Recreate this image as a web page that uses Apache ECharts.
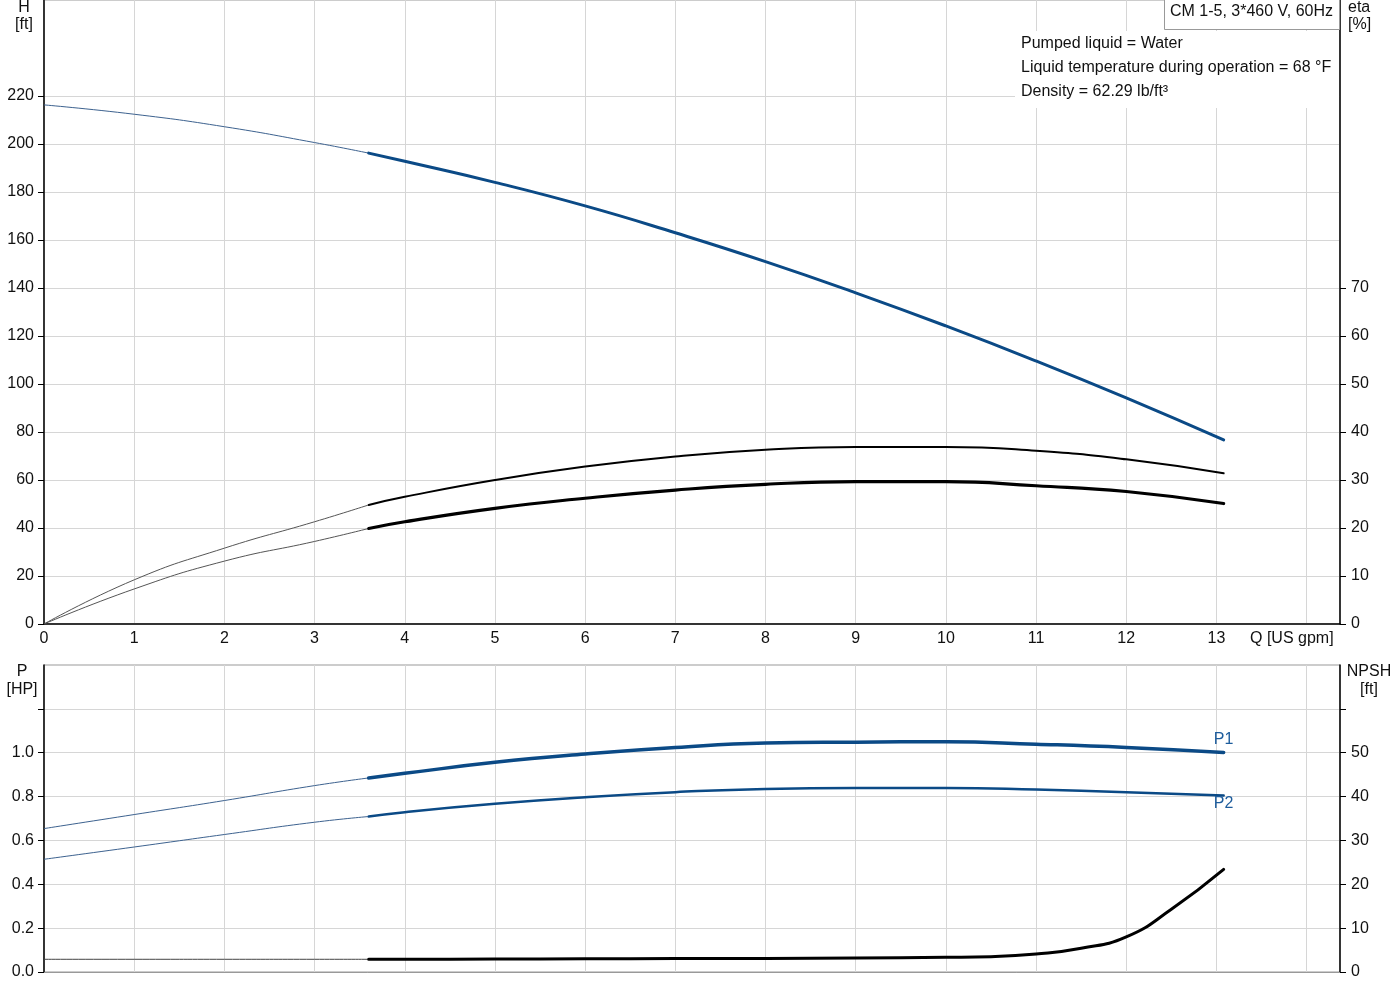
<!DOCTYPE html>
<html>
<head>
<meta charset="utf-8">
<script src="https://cdn.jsdelivr.net/npm/echarts@6/dist/echarts.min.js"></script>
<style>
html,body{margin:0;padding:0;background:#fff;}
#chart{width:1400px;height:1000px;}
</style>
</head>
<body>
<div id="chart"></div>
<script>
// ---- data ----
const q = [0, 1, 2, 3, 3.6, 4, 5, 6, 7, 8, 9, 10, 11, 12, 13.08];
const head = [216.3, 212.4, 207.2, 200.6, 196.2, 192.8, 184, 174.2, 163, 151, 138, 124.2, 109.6, 94.2, 76.7];
const etaUpper = [0, 9.2, 15.8, 21.3, 24.8, 26.5, 30, 32.8, 34.9, 36.3, 36.9, 36.9, 36.1, 34.3, 31.4];
const etaLower = [0, 7.3, 13.1, 17.2, 19.9, 21.3, 24.1, 26.2, 27.9, 29.1, 29.65, 29.65, 28.8, 27.6, 25.1];
const p1 = [0.654, 0.718, 0.782, 0.85, 0.885, 0.906, 0.956, 0.994, 1.024, 1.044, 1.048, 1.05, 1.039, 1.024, 1.001];
const p2 = [0.514, 0.57, 0.627, 0.683, 0.709, 0.729, 0.767, 0.797, 0.82, 0.835, 0.839, 0.839, 0.832, 0.82, 0.805];
const qNpsh = [0, 1, 2, 3, 3.6, 4, 5, 6, 7, 8, 9, 10, 10.5, 11, 11.5, 12, 12.5, 13.08];
const npsh = [2.9, 2.9, 2.9, 2.9, 2.9, 2.92, 2.95, 3.0, 3.05, 3.1, 3.2, 3.35, 3.5, 4.1, 5.4, 8.0, 14.3, 23.4];
const hTicks = [0, 20, 40, 60, 80, 100, 120, 140, 160, 180, 200, 220];
const etaTicks = [0, 10, 20, 30, 40, 50, 60, 70];
const pTicks = [0, 0.2, 0.4, 0.6, 0.8, 1.0];
const pTickMarks = [0, 0.2, 0.4, 0.6, 0.8, 1.0, 1.2];
const npshTicks = [0, 10, 20, 30, 40, 50];
const npshTickMarks = [0, 10, 20, 30, 40, 50, 60];
const splitIdx = 4; // operating range starts at q[4]

const FONT = '"Liberation Sans", Arial, sans-serif';
const FS = 16;
const BLUE = '#0b4a86';
const XMAX = 14.37;

function seg(xs, ys, from, to) {
  const out = [];
  for (let i = from; i <= to; i++) out.push([xs[i], ys[i]]);
  return out;
}
function thin(name, xs, ys, xi, yi, color) {
  return { name: name + '_t', type: 'line', xAxisIndex: xi, yAxisIndex: yi, data: seg(xs, ys, 0, splitIdx),
    smooth: 0.5, showSymbol: false, silent: true, lineStyle: { color: color, width: 1 }, z: 3 };
}
function thick(name, xs, ys, xi, yi, color, w, extra) {
  return Object.assign({ name: name, type: 'line', xAxisIndex: xi, yAxisIndex: yi, data: seg(xs, ys, splitIdx, xs.length - 1),
    smooth: 0.5, showSymbol: false, silent: true, lineStyle: { color: color, width: w, cap: 'round' }, z: 4 }, extra || {});
}

const axisLbl = { color: '#111', fontFamily: FONT, fontSize: FS };
const gridLine = { show: true, lineStyle: { color: '#d6d6d6', width: 1 } };
const F = FS + 'px ' + FONT;

const chart = echarts.init(document.getElementById('chart'), null, { renderer: 'canvas' });
const option = {
  animation: false,
  backgroundColor: '#fff',
  grid: [
    { left: 44, right: 60, top: 0, height: 624, show: true, borderColor: '#999', borderWidth: 1 },
    { left: 44, right: 60, top: 665, height: 307, show: true, borderColor: '#999', borderWidth: 1 }
  ],
  xAxis: [
    { type: 'value', gridIndex: 0, min: 0, max: XMAX, interval: 1,
      axisLine: { show: true, onZero: false, lineStyle: { color: '#000', width: 1.5 } },
      axisTick: { show: false },
      axisLabel: Object.assign({}, axisLbl, { margin: 7, showMaxLabel: false,
        formatter: v => (Number.isInteger(v) && v <= 13) ? String(v) : '' }),
      splitLine: gridLine },
    { type: 'value', gridIndex: 1, min: 0, max: XMAX, interval: 1,
      axisLine: { show: true, onZero: false, lineStyle: { color: '#999', width: 1 } },
      axisTick: { show: false }, axisLabel: { show: false },
      splitLine: gridLine }
  ],
  yAxis: [
    { type: 'value', gridIndex: 0, min: 0, max: 260, interval: 20, position: 'left',
      axisLine: { show: true, lineStyle: { color: '#000', width: 1.5 } },
      axisTick: { show: true, length: 6, customValues: hTicks, lineStyle: { color: '#000' } },
      axisLabel: Object.assign({}, axisLbl, { margin: 10, customValues: hTicks }),
      splitLine: gridLine },
    { type: 'value', gridIndex: 0, min: 0, max: 130, interval: 10, position: 'right',
      axisLine: { show: true, lineStyle: { color: '#000', width: 1.5 } },
      axisTick: { show: true, length: 6, customValues: etaTicks, lineStyle: { color: '#000' } },
      axisLabel: Object.assign({}, axisLbl, { margin: 11, customValues: etaTicks }),
      splitLine: { show: false } },
    { type: 'value', gridIndex: 1, min: 0, max: 1.4, interval: 0.2, position: 'left',
      axisLine: { show: true, lineStyle: { color: '#000', width: 1.5 } },
      axisTick: { show: true, length: 6, customValues: pTickMarks, lineStyle: { color: '#000' } },
      axisLabel: Object.assign({}, axisLbl, { margin: 10, customValues: pTicks, formatter: v => v.toFixed(1) }),
      splitLine: gridLine },
    { type: 'value', gridIndex: 1, min: 0, max: 70, interval: 10, position: 'right',
      axisLine: { show: true, lineStyle: { color: '#000', width: 1.5 } },
      axisTick: { show: true, length: 6, customValues: npshTickMarks, lineStyle: { color: '#000' } },
      axisLabel: Object.assign({}, axisLbl, { margin: 11, customValues: npshTicks }),
      splitLine: { show: false } }
  ],
  series: [
    thin('H', q, head, 0, 0, '#3d628f'),
    thick('H', q, head, 0, 0, BLUE, 3),
    thin('eta1', q, etaUpper, 0, 1, '#555'),
    thick('eta1', q, etaUpper, 0, 1, '#000', 2),
    thin('eta2', q, etaLower, 0, 1, '#555'),
    thick('eta2', q, etaLower, 0, 1, '#000', 3.2),
    thin('P1', q, p1, 1, 2, '#3d628f'),
    thick('P1', q, p1, 1, 2, BLUE, 3.5, {
      markPoint: { symbol: 'circle', symbolSize: 0, silent: true,
        data: [{ coord: [q[q.length - 1], p1[p1.length - 1]],
          label: { show: true, position: 'top', distance: 5, formatter: 'P1', color: '#1d5c9c', fontFamily: FONT, fontSize: FS } }] } }),
    thin('P2', q, p2, 1, 2, '#3d628f'),
    thick('P2', q, p2, 1, 2, BLUE, 2.5, {
      markPoint: { symbol: 'circle', symbolSize: 0, silent: true,
        data: [{ coord: [q[q.length - 1], p2[p2.length - 1]],
          label: { show: true, position: 'bottom', distance: 0, formatter: 'P2', color: '#1d5c9c', fontFamily: FONT, fontSize: FS } }] } }),
    thin('NPSH', qNpsh, npsh, 1, 3, '#444'),
    thick('NPSH', qNpsh, npsh, 1, 3, '#000', 3)
  ],
  graphic: [
    { type: 'rect', z: 50, shape: { x: 1015, y: 31, width: 324, height: 77 }, style: { fill: '#fff' } },
    { type: 'rect', z: 51, shape: { x: 1164.5, y: -1, width: 175, height: 30.5 }, style: { fill: '#fff', stroke: '#999', lineWidth: 1 } },
    { type: 'text', z: 52, x: 1170, y: 12, style: { text: 'CM 1-5, 3*460 V, 60Hz', font: F, fill: '#111', verticalAlign: 'middle' } },
    { type: 'text', z: 52, x: 1021, y: 44, style: { text: 'Pumped liquid = Water', font: F, fill: '#111', verticalAlign: 'middle' } },
    { type: 'text', z: 52, x: 1021, y: 68, style: { text: 'Liquid temperature during operation = 68 °F', font: F, fill: '#111', verticalAlign: 'middle' } },
    { type: 'text', z: 52, x: 1021, y: 92, style: { text: 'Density = 62.29 lb/ft³', font: F, fill: '#111', verticalAlign: 'middle' } },
    { type: 'text', z: 52, x: 24, y: 8, style: { text: 'H', font: F, fill: '#111', align: 'center', verticalAlign: 'middle' } },
    { type: 'text', z: 52, x: 24, y: 25, style: { text: '[ft]', font: F, fill: '#111', align: 'center', verticalAlign: 'middle' } },
    { type: 'text', z: 52, x: 1348, y: 8, style: { text: 'eta', font: F, fill: '#111', verticalAlign: 'middle' } },
    { type: 'text', z: 52, x: 1348, y: 25, style: { text: '[%]', font: F, fill: '#111', verticalAlign: 'middle' } },
    { type: 'text', z: 52, x: 1250, y: 639, style: { text: 'Q [US gpm]', font: F, fill: '#111', verticalAlign: 'middle' } },
    { type: 'text', z: 52, x: 22, y: 672, style: { text: 'P', font: F, fill: '#111', align: 'center', verticalAlign: 'middle' } },
    { type: 'text', z: 52, x: 22, y: 690, style: { text: '[HP]', font: F, fill: '#111', align: 'center', verticalAlign: 'middle' } },
    { type: 'text', z: 52, x: 1369, y: 672, style: { text: 'NPSH', font: F, fill: '#111', align: 'center', verticalAlign: 'middle' } },
    { type: 'text', z: 52, x: 1369, y: 690, style: { text: '[ft]', font: F, fill: '#111', align: 'center', verticalAlign: 'middle' } }
  ]
};
chart.setOption(option);
</script>
</body>
</html>
